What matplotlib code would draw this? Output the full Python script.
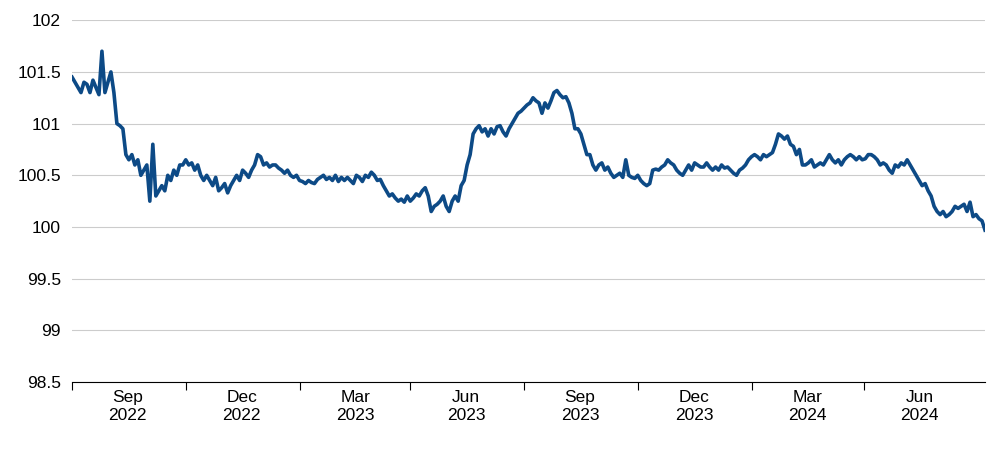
import matplotlib
matplotlib.use("Agg")
import matplotlib.pyplot as plt
import matplotlib.dates as mdates
import pandas as pd
import numpy as np

start_date = "2022-08-01"
end_date = "2024-08-07"
values = [101.45,101.4,101.35,101.3,101.4,101.38,101.3,101.42,101.35,101.28,101.7,101.3,101.4,101.5,101.3,101.0,
100.98,100.95,100.7,100.65,100.7,100.6,100.65,100.5,100.55,100.6,100.25,100.8,100.3,100.35,100.4,100.35,100.5,
100.45,100.55,100.5,100.6,100.6,100.65,100.6,100.62,100.55,100.6,100.5,100.45,100.5,100.45,100.4,100.48,100.35,
100.38,100.42,100.33,100.4,100.45,100.5,100.45,100.55,100.52,100.48,100.55,100.6,100.7,100.68,100.6,100.62,100.58,
100.6,100.6,100.57,100.55,100.52,100.55,100.5,100.48,100.5,100.45,100.44,100.42,100.45,100.43,100.42,100.46,100.48,
100.5,100.46,100.48,100.45,100.5,100.44,100.48,100.45,100.48,100.45,100.42,100.5,100.48,100.44,100.5,100.48,100.53,
100.5,100.45,100.46,100.4,100.35,100.3,100.32,100.28,100.25,100.27,100.24,100.3,100.25,100.28,100.32,100.3,100.35,
100.38,100.3,100.15,100.2,100.22,100.25,100.3,100.2,100.15,100.25,100.3,100.25,100.4,100.45,100.6,100.7,100.9,100.95,
100.98,100.92,100.95,100.88,100.95,100.9,100.97,100.98,100.92,100.88,100.95,101.0,101.05,101.1,101.12,101.15,101.18,
101.2,101.25,101.22,101.2,101.1,101.2,101.15,101.22,101.3,101.32,101.28,101.25,101.26,101.2,101.1,100.95,100.95,100.9,
100.8,100.7,100.7,100.6,100.55,100.6,100.62,100.55,100.58,100.52,100.48,100.5,100.52,100.48,100.65,100.5,100.48,100.47,
100.5,100.45,100.42,100.4,100.42,100.55,100.56,100.55,100.58,100.6,100.65,100.62,100.6,100.55,100.52,100.5,100.55,100.6,
100.55,100.62,100.6,100.58,100.58,100.62,100.58,100.55,100.58,100.55,100.6,100.57,100.58,100.55,100.52,100.5,100.55,
100.57,100.6,100.65,100.68,100.7,100.68,100.65,100.7,100.68,100.7,100.72,100.8,100.9,100.88,100.85,100.88,100.8,100.78,
100.7,100.75,100.6,100.6,100.62,100.65,100.58,100.6,100.62,100.6,100.65,100.7,100.65,100.62,100.65,100.6,100.65,100.68,
100.7,100.68,100.65,100.68,100.65,100.66,100.7,100.7,100.68,100.65,100.6,100.62,100.6,100.55,100.52,100.6,100.58,100.62,
100.6,100.65,100.6,100.55,100.5,100.45,100.4,100.42,100.35,100.3,100.2,100.15,100.12,100.15,100.1,100.12,100.15,100.2,
100.18,100.2,100.22,100.15,100.24,100.1,100.12,100.08,100.06,99.97]
yticks = [98.5, 99, 99.5, 100, 100.5, 101, 101.5, 102]
ytick_labels = ["98.5", "99", "99.5", "100", "100.5", "101", "101.5", "102"]
xtick_labels = ["Sep\n2022", "Dec\n2022", "Mar\n2023", "Jun\n2023", "Sep\n2023", "Dec\n2023", "Mar\n2024", "Jun\n2024"]

dates = pd.date_range(start_date, end_date, periods=len(values))

plt.rcParams["font.family"] = "Liberation Sans"
fig = plt.figure(figsize=(10, 4.49), dpi=100)
ax = fig.add_axes([0.072, 0.149, 0.913, 0.806])
ax.plot(dates, values, color="#0d4a86", lw=2.6, solid_joinstyle="round")
ax.set_ylim(98.5, 102)
ax.set_yticks(yticks)
ax.set_yticklabels(ytick_labels, fontsize=12.5)
ax.grid(axis="y", color="#cccccc", lw=0.8)
ax.set_axisbelow(True)
ax.set_xlim(pd.Timestamp(start_date), pd.Timestamp(end_date))
major = [pd.Timestamp(d) for d in ["2022-08-01","2022-11-01","2023-02-01","2023-05-01","2023-08-01","2023-11-01","2024-02-01","2024-05-01"]]
ax.set_xticks(major)
ax.set_xticklabels([])
minor = [m + pd.Timedelta(days=45) for m in major]
ax.set_xticks(minor, minor=True)
ax.set_xticklabels(xtick_labels, minor=True, fontsize=12.5)
ax.tick_params(axis="x", which="minor", length=0, pad=6)
ax.tick_params(axis="x", which="major", length=6, color="black")
ax.tick_params(axis="y", length=0, pad=8)
for s in ["top", "right", "left"]:
    ax.spines[s].set_visible(False)
ax.spines["bottom"].set_color("black")
fig.savefig("out.png", dpi=100)
